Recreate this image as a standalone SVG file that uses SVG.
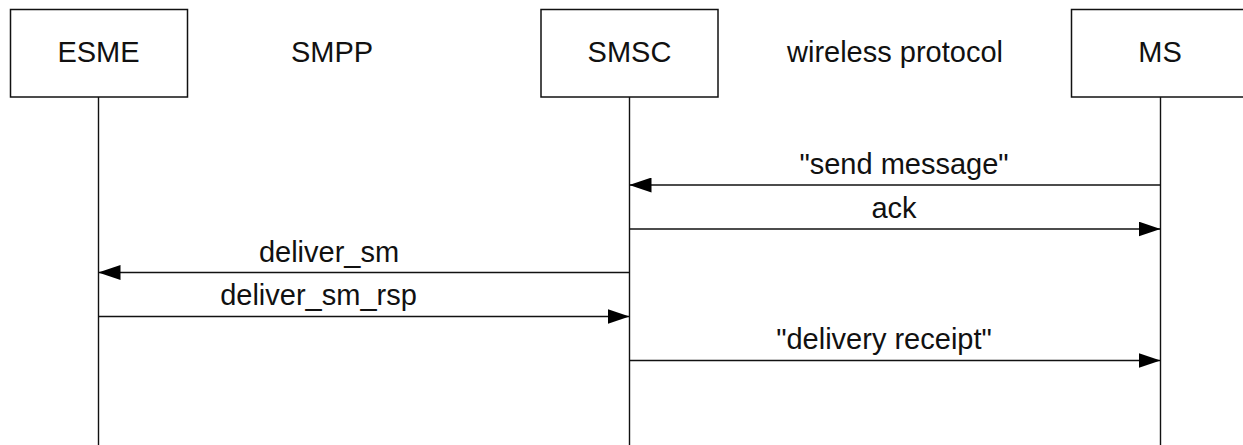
<svg xmlns="http://www.w3.org/2000/svg" width="1243" height="445" viewBox="0 0 1243 445">
  <style>
    .box { fill: #ffffff; stroke: #111111; stroke-width: 1.5; }
    .life { stroke: #111111; stroke-width: 1.4; fill: none; }
    .msg { stroke: #111111; stroke-width: 1.5; fill: none; marker-end: url(#head); }
    .t { font-family: "Liberation Sans", Arial, sans-serif; font-size: 29px; fill: #111111; text-anchor: middle; }
  </style>
  <defs>
    <marker id="head" viewBox="0 0 22 15" refX="22" refY="7.5" markerWidth="22" markerHeight="15" markerUnits="userSpaceOnUse" orient="auto">
      <path d="M0,0 L22,7.5 L0,15 z" fill="#000000"/>
    </marker>
  </defs>
  <rect width="1243" height="445" fill="#ffffff"/>

  <!-- participants -->
  <g id="esme">
    <rect class="box" x="10.5" y="9.5" width="177" height="87.5"/>
    <line class="life" x1="98.5" y1="97" x2="98.5" y2="445"/>
    <text class="t" x="98.5" y="62">ESME</text>
  </g>
  <g id="smsc">
    <rect class="box" x="541" y="9.5" width="177" height="87.5"/>
    <line class="life" x1="629.5" y1="97" x2="629.5" y2="445"/>
    <text class="t" x="629.5" y="62">SMSC</text>
  </g>
  <g id="ms">
    <rect class="box" x="1071.5" y="9.5" width="177" height="87.5"/>
    <line class="life" x1="1160.5" y1="97" x2="1160.5" y2="445"/>
    <text class="t" x="1160" y="62">MS</text>
  </g>

  <!-- protocol captions -->
  <g id="captions">
    <text class="t" x="332" y="62">SMPP</text>
    <text class="t" x="895" y="62">wireless protocol</text>
  </g>

  <!-- messages -->
  <g id="connectors">
    <line class="msg" x1="1160.5" y1="185" x2="629.5" y2="185"/>
    <line class="msg" x1="629.5" y1="229" x2="1160.5" y2="229"/>
    <line class="msg" x1="629.5" y1="272.5" x2="98.5" y2="272.5"/>
    <line class="msg" x1="98.5" y1="316.5" x2="629.5" y2="316.5"/>
    <line class="msg" x1="629.5" y1="360.5" x2="1160.5" y2="360.5"/>
  </g>
  <g id="labels">
    <text class="t" x="904" y="174">"send message"</text>
    <text class="t" x="894" y="218">ack</text>
    <text class="t" x="329" y="262">deliver_sm</text>
    <text class="t" x="318.5" y="305">deliver_sm_rsp</text>
    <text class="t" x="884" y="349">"delivery receipt"</text>
  </g>
</svg>
